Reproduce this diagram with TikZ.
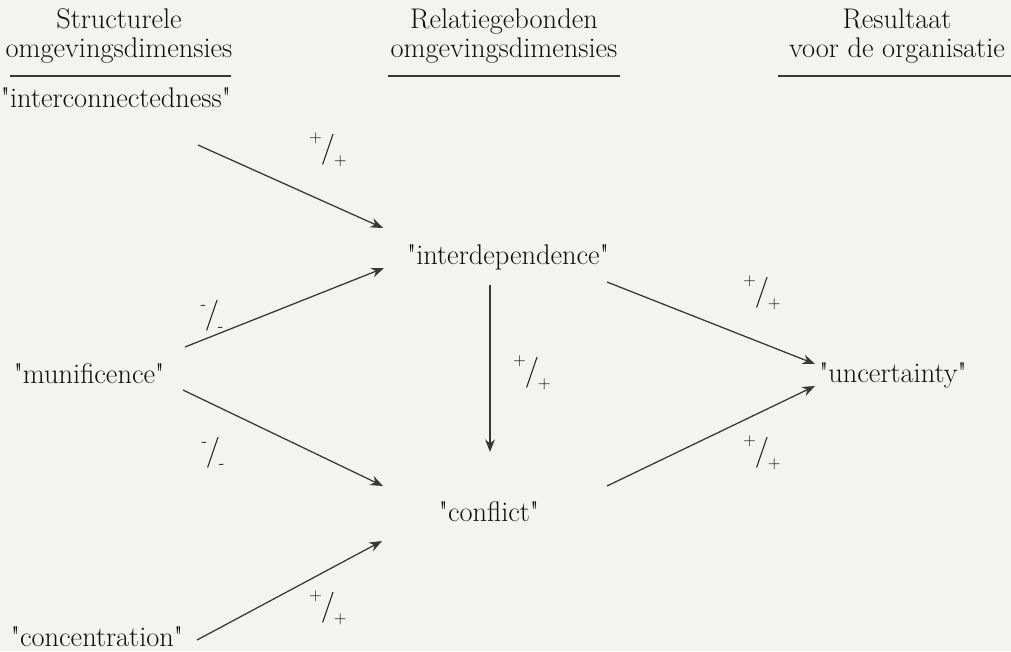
\documentclass[tikz,border=0pt]{standalone}
\usepackage{fontspec}
\setmainfont{Latin Modern Roman}[Ligatures=TeXOff]
\usetikzlibrary{arrows.meta,positioning}

\definecolor{paper}{RGB}{243,243,241}
\definecolor{ink}{RGB}{15,15,15}
\definecolor{wire}{RGB}{55,55,55}

\newcommand{\sgnpair}[2]{%
  \raisebox{10pt}{\fontsize{12}{12}\selectfont#1}\kern-.08em%
  {\fontsize{22}{22}\selectfont/}\kern-.08em%
  \raisebox{-6pt}{\fontsize{12}{12}\selectfont#2}}

\begin{document}
\begin{tikzpicture}[x=0.025cm, y=-0.025cm, >=Stealth,
    dim/.style={text=ink, inner sep=0pt, font=\fontsize{20.2}{20}\selectfont},
    head/.style={dim, align=center},
    link/.style={draw=wire, line width=0.9pt, -{Stealth[length=9pt,width=7pt]}},
    sign/.style={text=ink, inner sep=0pt}]
      \fill[paper] (0,0) rectangle (1011,651);
      \useasboundingbox (0,0) rectangle (1011,651);

      % column heads
      \node[head] (h1) at (119,36) {Structurele\\omgevingsdimensies};
      \node[head] (h2) at (504,36) {Relatiegebonden\\omgevingsdimensies};
      \node[head] (h3) at (897,36) {Resultaat\\voor de organisatie};
      \draw[wire, line width=0.8pt] ([xshift=3]h1.west |- 0,76) -- ([xshift=-1]h1.east |- 0,76);
      \draw[wire, line width=0.8pt] ([xshift=-2]h2.west |- 0,76) -- ([xshift=2]h2.east |- 0,76);
      \draw[wire, line width=0.8pt] ([xshift=-8]h3.west |- 0,76) -- ([xshift=4]h3.east |- 0,76);

      % dimensions
      \node[dim] (intcon) at (116,98) {"interconnectedness"};
      \node[dim] (munif) at (89,374) {"munificence"};
      \node[dim] (conc) at (97,637) {"concentration"};
      \node[dim] (interdep) at (508,257) {"interdependence"};
      \node[dim] (confl) at (489,512) {"conflict"};
      \node[dim] (uncert) at (893,375) {"uncertainty"};

      \draw[link] ([shift={(82,47)}]intcon.center) -- ([shift={(-125,-29)}]interdep.center);
      \draw[link] ([shift={(96,-27)}]munif.center) -- ([shift={(-124,11)}]interdep.center);
      \draw[link] ([shift={(94,16)}]munif.center) -- ([shift={(-106,-26)}]confl.center);
      \draw[link] ([shift={(100,3)}]conc.center) -- ([shift={(-107,29)}]confl.center);
      \draw[link] ([shift={(-18,28)}]interdep.center) -- ([shift={(1,-60)}]confl.center);
      \draw[link] ([shift={(99,25)}]interdep.center) -- ([shift={(-78,-11)}]uncert.center);
      \draw[link] ([shift={(118,-26)}]confl.center) -- ([shift={(-78,11)}]uncert.center);

      % signs
      \node[sign] (s1) at (328,150) {\sgnpair{+}{+}};
      \node[sign] (s2) at (212,316) {\sgnpair{-}{-}};
      \node[sign] (s3) at (532,373) {\sgnpair{+}{+}};
      \node[sign] (s4) at (213,453) {\sgnpair{-}{-}};
      \node[sign] (s5) at (762,293) {\sgnpair{+}{+}};
      \node[sign] (s6) at (762,453) {\sgnpair{+}{+}};
      \node[sign] (s7) at (328,608) {\sgnpair{+}{+}};
    \end{tikzpicture}
\end{document}
